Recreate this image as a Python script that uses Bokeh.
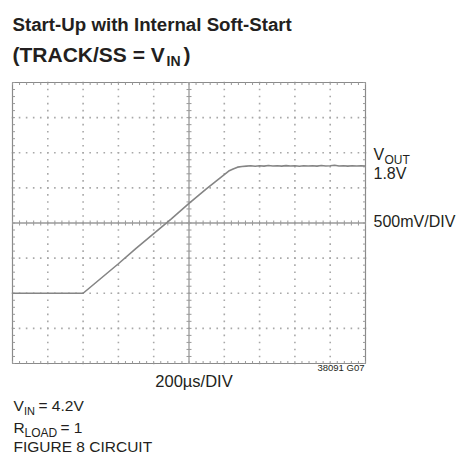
import numpy as np
from bokeh.plotting import figure
from bokeh.models import Label, Range1d
from bokeh.embed import file_html
from bokeh.resources import INLINE

# ---- data (time in µs, VOUT in volts) ----
t_us = [0, 100, 200, 300, 400, 500, 600, 700, 800, 900, 1000, 1100, 1150, 1200, 1225, 1250, 1275,
        1300, 1325, 1350, 1375, 1400, 1425, 1450, 1475, 1500, 1525, 1550, 1575, 1600, 1625, 1650,
        1675, 1700, 1725, 1750, 1775, 1800, 1825, 1850, 1875, 1900, 1925, 1950, 1975, 2000]
vout = [0.0, 0.0, 0.0, 0.0, 0.0, 0.21, 0.42, 0.64, 0.85, 1.06, 1.28, 1.49, 1.59, 1.69, 1.74, 1.77, 1.795,
        1.805, 1.81, 1.815, 1.808, 1.816, 1.81, 1.818, 1.812, 1.815, 1.809, 1.817, 1.811, 1.814, 1.808, 1.816,
        1.812, 1.815, 1.81, 1.818, 1.811, 1.816, 1.822, 1.812, 1.815, 1.809, 1.816, 1.811, 1.815, 1.812]

x_div_ticks = [0, 200, 400, 600, 800, 1000, 1200, 1400, 1600, 1800, 2000]
y_div_ticks = [-1.0, -0.5, 0.0, 0.5, 1.0, 1.5, 2.0, 2.5, 3.0]

W, H = 457, 456
FONT = "Liberation Sans"
GRAY = "#9a9a9a"

# page-pixel <-> data mapping (scope screen spans px 12..365 x 82..363)
def dx(px):
    return (px - 12) * 2000.0 / 353.0

def dy(py):
    return 3.0 - (py - 82) * 4.0 / 281.0

p = figure(width=W, height=H, output_backend="svg", toolbar_location=None,
           x_range=Range1d(dx(0), dx(W)), y_range=Range1d(dy(H), dy(0)),
           x_axis_location=None, y_axis_location=None, min_border=0)
p.outline_line_color = None
p.grid.visible = False
p.background_fill_color = "white"
p.border_fill_color = "white"

x0, x1 = x_div_ticks[0], x_div_ticks[-1]
y0, y1 = y_div_ticks[0], y_div_ticks[-1]
xm = np.linspace(x0, x1, (len(x_div_ticks) - 1) * 5 + 1)   # 1/5 division positions
ym = np.linspace(y0, y1, (len(y_div_ticks) - 1) * 5 + 1)
tx = dx(12 + 2.5) - dx(12)    # tick length in data units
ty = dy(82) - dy(82 + 2.5)

# dotted graticule: dots at every 1/5 division along each division line
gx, gy = [], []
for xv in x_div_ticks[1:-1]:
    if xv == 1000:
        continue
    gx += [xv] * len(ym)
    gy += list(ym)
for yv in y_div_ticks[1:-1]:
    if yv == 1.0:
        continue
    gx += list(xm)
    gy += [yv] * len(xm)
p.scatter(gx, gy, marker="square", size=1.6, fill_color="#a8a8a8", line_color=None)

# border
p.quad(left=x0, right=x1, bottom=y0, top=y1, fill_color=None, line_color="#8a8a8a", line_width=1.2)
# inward border ticks
p.segment(x0=xm, y0=[y0] * len(xm), x1=xm, y1=[y0 + ty] * len(xm), line_color=GRAY, line_width=1)
p.segment(x0=xm, y0=[y1] * len(xm), x1=xm, y1=[y1 - ty] * len(xm), line_color=GRAY, line_width=1)
p.segment(x0=[x0] * len(ym), y0=ym, x1=[x0 + tx] * len(ym), y1=ym, line_color=GRAY, line_width=1)
p.segment(x0=[x1] * len(ym), y0=ym, x1=[x1 - tx] * len(ym), y1=ym, line_color=GRAY, line_width=1)

# centre crosshair with tick marks
p.segment(x0=[1000, x0], y0=[y0, 1.0], x1=[1000, x1], y1=[y1, 1.0], line_color=GRAY, line_width=1.3)
p.segment(x0=xm, y0=[1.0 - ty] * len(xm), x1=xm, y1=[1.0 + ty] * len(xm), line_color=GRAY, line_width=1)
p.segment(x0=[1000 - tx] * len(ym), y0=ym, x1=[1000 + tx] * len(ym), y1=ym, line_color=GRAY, line_width=1)

# trace
p.line(t_us, vout, line_color="#858585", line_width=1.6)

def lab(text, px, py, size, bold=False, align="left"):
    # labels render slightly below the requested alphabetic baseline; compensate
    shift = 0.37 * size
    p.add_layout(Label(x=dx(px), y=dy(py - shift), text=text, text_font=FONT, text_font_size=f"{size}px",
                       text_font_style="bold" if bold else "normal", text_color="#231f20",
                       text_align=align, text_baseline="alphabetic"))

# title
lab("Start-Up with Internal Soft-Start", 12, 31, 18.7, bold=True)
lab("(TRACK/SS = V", 12, 62, 21, bold=True)
lab("IN", 166, 66, 14, bold=True)
lab(")", 183, 62, 21, bold=True)

# right side labels
lab("V", 373, 160, 16)
lab("OUT", 384, 164, 12)
lab("1.8V", 373, 179, 16)
lab("500mV/DIV", 373, 227, 16)

# below
lab("200µs/DIV", 193.5, 387, 16.5, align="center")
lab("38091 G07", 364, 371, 9.5, align="right")
lab("V", 13, 411, 15.5)
lab("IN", 23.5, 415, 11)
lab("= 4.2V", 38, 411, 15.5)
lab("R", 13, 433, 15.5)
lab("LOAD", 24, 437, 12)
lab("= 1", 60, 433, 15.5)
lab("FIGURE 8 CIRCUIT", 13, 452, 15.5)

open("out.html", "w").write(file_html(p, INLINE))
